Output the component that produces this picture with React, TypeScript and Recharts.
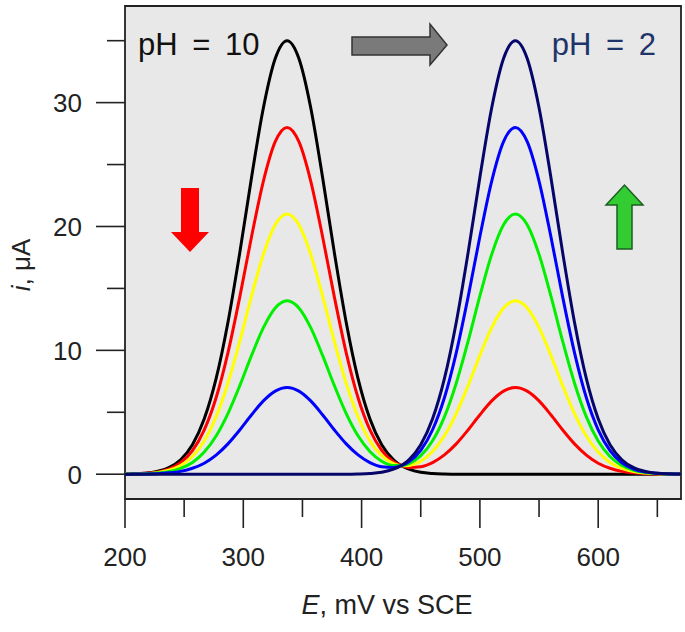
import React from "react"
import {
  LineChart,
  Line,
  XAxis,
  YAxis,
  CartesianGrid,
  ReferenceArea,
} from "recharts"

// potential grid (mV vs SCE)
const potential = [
  200, 207, 217, 227, 237, 247, 257, 267, 277, 287, 297, 307, 317, 327, 337, 347,
  357, 367, 377, 387, 397, 407, 417, 427, 434, 440, 450, 460, 470, 480, 490, 500,
  510, 520, 530, 540, 550, 560, 570, 580, 590, 600, 610, 620, 630, 640, 650, 660, 670,
]

// current (uA) for each pH step
const black = [
  0.01, 0.03, 0.08, 0.22, 0.53, 1.17, 2.38, 4.47, 7.71, 12.25, 17.87, 23.98, 29.59, 33.56, 35, 33.56,
  29.59, 23.98, 17.87, 12.25, 7.71, 4.47, 2.38, 1.17, 0.67, 0.41, 0.16, 0.06, 0.02, 0, 0, 0,
  0, 0, 0, 0, 0, 0, 0, 0, 0, 0, 0, 0, 0, 0, 0, 0, 0,
]
const red = [
  0.01, 0.02, 0.07, 0.17, 0.42, 0.93, 1.9, 3.58, 6.17, 9.8, 14.3, 19.19, 23.67, 26.85, 28, 26.85,
  23.67, 19.19, 14.3, 9.8, 6.17, 3.59, 1.93, 1.01, 0.69, 0.55, 0.61, 0.94, 1.56, 2.45, 3.57, 4.8,
  5.92, 6.71, 7, 6.71, 5.92, 4.8, 3.57, 2.45, 1.54, 0.89, 0.48, 0.23, 0.11, 0.04, 0.02, 0.01, 0,
]
const yellow = [
  0.01, 0.02, 0.05, 0.13, 0.32, 0.7, 1.43, 2.68, 4.63, 7.35, 10.72, 14.39, 17.75, 20.14, 21, 20.14,
  17.75, 14.39, 10.72, 7.35, 4.64, 2.7, 1.5, 0.86, 0.69, 0.71, 1.05, 1.83, 3.1, 4.9, 7.15, 9.59,
  11.83, 13.42, 14, 13.42, 11.83, 9.59, 7.15, 4.9, 3.09, 1.79, 0.95, 0.47, 0.21, 0.09, 0.03, 0.01, 0.01,
]
const green = [
  0.01, 0.01, 0.03, 0.09, 0.21, 0.47, 0.95, 1.79, 3.09, 4.9, 7.15, 9.59, 11.83, 13.42, 14, 13.42,
  11.83, 9.59, 7.15, 4.9, 3.1, 1.83, 1.05, 0.71, 0.71, 0.86, 1.5, 2.7, 4.63, 7.35, 10.72, 14.39,
  17.75, 20.14, 21, 20.14, 17.75, 14.39, 10.72, 7.35, 4.63, 2.68, 1.43, 0.7, 0.32, 0.13, 0.05, 0.02, 0.01,
]
const blue = [
  0, 0.01, 0.02, 0.04, 0.11, 0.23, 0.48, 0.89, 1.54, 2.45, 3.57, 4.8, 5.92, 6.71, 7, 6.71,
  5.92, 4.8, 3.57, 2.45, 1.56, 0.94, 0.61, 0.55, 0.71, 1.01, 1.93, 3.59, 6.17, 9.8, 14.3, 19.19,
  23.67, 26.85, 28, 26.85, 23.67, 19.19, 14.3, 9.8, 6.17, 3.58, 1.9, 0.93, 0.42, 0.17, 0.07, 0.02, 0.01,
]
const navy = [
  0, 0, 0, 0, 0, 0, 0, 0, 0, 0, 0, 0, 0, 0, 0, 0,
  0, 0, 0, 0, 0.02, 0.06, 0.16, 0.41, 0.73, 1.17, 2.38, 4.47, 7.71, 12.25, 17.87, 23.98,
  29.59, 33.56, 35, 33.56, 29.59, 23.98, 17.87, 12.25, 7.71, 4.47, 2.38, 1.17, 0.53, 0.22, 0.08, 0.03, 0.01,
]

const xTicks = [200, 250, 300, 350, 400, 450, 500, 550, 600, 650]
const yTicks = [0, 5, 10, 15, 20, 25, 30, 35]

const series = [
  { key: "black", color: "#000000" },
  { key: "red", color: "#ff0000" },
  { key: "yellow", color: "#ffff00" },
  { key: "green", color: "#00f000" },
  { key: "blue", color: "#0000ff" },
  { key: "navy", color: "#06066a" },
]

const data = potential.map((E, i) => ({
  E,
  black: black[i],
  red: red[i],
  yellow: yellow[i],
  green: green[i],
  blue: blue[i],
  navy: navy[i],
}))

const font = "'Liberation Sans', Arial, sans-serif"
const ink = "#222"

function XTick(props: any) {
  const { x, y, payload } = props
  const major = payload.value % 100 === 0
  return (
    <g>
      <line x1={x} x2={x} y1={y} y2={y + (major ? 29 : 18)} stroke={ink} strokeWidth={1.6} />
      {major && (
        <text x={x} y={y + 67} textAnchor="middle" fontSize={26} fontFamily={font} fill={ink}>
          {payload.value}
        </text>
      )}
    </g>
  )
}

function YTick(props: any) {
  const { x, y, payload } = props
  const major = payload.value % 10 === 0
  return (
    <g>
      <line x1={x - (major ? 29 : 18)} x2={x} y1={y} y2={y} stroke={ink} strokeWidth={1.6} />
      {major && (
        <text x={x - 43} y={y + 9.5} textAnchor="end" fontSize={26} fontFamily={font} fill={ink}>
          {payload.value}
        </text>
      )}
    </g>
  )
}

export default function App() {
  return (
    <div style={{ position: "absolute", left: 0, top: 0, width: 685, height: 632, background: "#fff" }}>
      <LineChart
        width={685}
        height={632}
        data={data}
        margin={{ top: 6, right: 4, bottom: 33, left: 25 }}
      >
        <CartesianGrid fill="#e8e8e8" horizontal={false} vertical={false} />
        <XAxis
          dataKey="E"
          type="number"
          domain={[200, 670]}
          ticks={xTicks}
          interval={0}
          height={100}
          tickSize={0}
          tickMargin={0}
          axisLine={false}
          tickLine={false}
          tick={<XTick />}
          allowDataOverflow
        />
        <YAxis
          type="number"
          domain={[-2, 37.8]}
          ticks={yTicks}
          interval={0}
          width={100}
          tickSize={0}
          tickMargin={0}
          axisLine={false}
          tickLine={false}
          tick={<YTick />}
          allowDataOverflow
        />
        {series.map((s) => (
          <Line
            key={s.key}
            dataKey={s.key}
            type="monotone"
            stroke={s.color}
            strokeWidth={3}
            dot={false}
            activeDot={false}
            isAnimationActive={false}
          />
        ))}
        <ReferenceArea
          x1={200}
          x2={670}
          y1={-2}
          y2={37.8}
          fill="none"
          stroke={ink}
          strokeWidth={1.8}
          ifOverflow="visible"
        />
      </LineChart>
      <svg
        width={685}
        height={632}
        style={{ position: "absolute", left: 0, top: 0, pointerEvents: "none" }}
      >
        <text x={138} y={55} fontSize={31} fontFamily={font} fill="#111" style={{ wordSpacing: 6 }}>
          pH = 10
        </text>
        <text x={656} y={55} textAnchor="end" fontSize={31} fontFamily={font} fill="#1f3468" style={{ wordSpacing: 6 }}>
          pH = 2
        </text>
        <polygon
          points="352,37 430,37 430,24 447,45 430,65 430,55 352,55"
          fill="#7a7a7a"
          stroke="#333"
          strokeWidth={1.5}
        />
        <polygon points="181,188 199,188 199,232 209,232 190,252 171,232 181,232" fill="#ff0000" />
        <polygon
          points="617,249 632,249 632,205 643,205 624.5,185 606,205 617,205"
          fill="#33cc33"
          stroke="#1b5e20"
          strokeWidth={1.5}
        />
        <text
          transform="translate(30,265) rotate(-90)"
          textAnchor="middle"
          fontSize={26}
          fontFamily={font}
          fill={ink}
        >
          <tspan fontStyle="italic">i</tspan>, μA
        </text>
        <text x={387} y={614} textAnchor="middle" fontSize={27} fontFamily={font} fill={ink}>
          <tspan fontStyle="italic">E</tspan>, mV vs SCE
        </text>
      </svg>
    </div>
  )
}
